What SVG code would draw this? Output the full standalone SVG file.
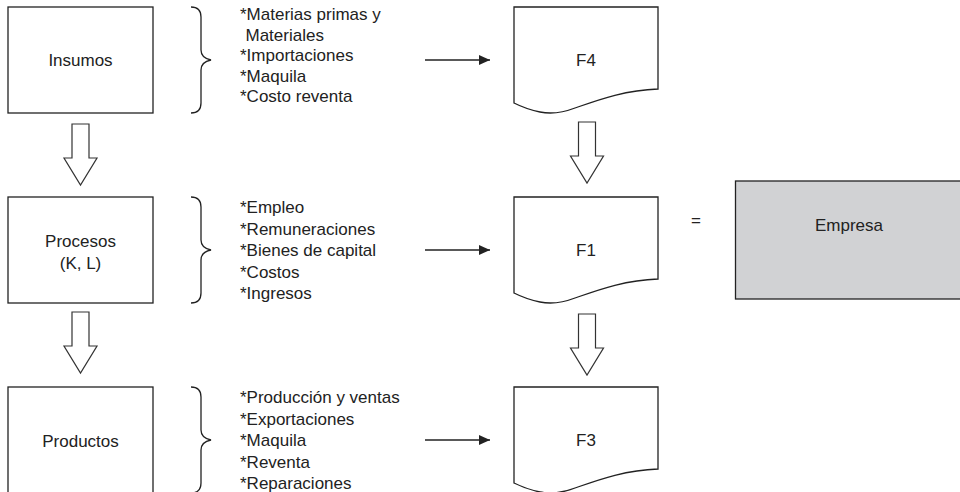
<svg xmlns="http://www.w3.org/2000/svg" xmlns:xlink="http://www.w3.org/1999/xlink" width="960" height="492" viewBox="0 0 960 492">
<style>
.box{fill:#fff;stroke:#222;stroke-width:1.3}
.gray{fill:#d1d2d4;stroke:#222;stroke-width:1.3}
.ln{fill:none;stroke:#222;stroke-width:1.3}
.blk{fill:#fff;stroke:#333;stroke-width:1.2}
text{font-family:"Liberation Sans",Arial,sans-serif;font-size:17px;fill:#222}
.c{text-anchor:middle}
</style>
<defs>
<path id="doc" d="M0,0 H144 V82 C111,83 84,93 61,101 C48,106 36,107 26,105 C16,103 6,99 0,96 Z"/>
<path id="blk" d="M-8.5,0 H8.5 V34 H16.5 L0,61 L-16.5,34 H-8.5 Z"/>
<path id="brace" d="M0,0 Q10,0 10,10 V43 Q10,51 20,53 Q10,55 10,63 V96 Q10,106 0,106"/>
<marker id="ah" viewBox="0 0 11 10" refX="11" refY="5" markerWidth="11" markerHeight="10" markerUnits="userSpaceOnUse" orient="auto">
<path d="M0,0 L11,5 L0,10 Z" fill="#222"/>
</marker>
</defs>

<g id="insumos">
<rect class="box" x="8" y="7" width="145" height="106"/>
<text class="c" x="80.5" y="66">Insumos</text>
</g>
<g id="procesos">
<rect class="box" x="8" y="197" width="145" height="106"/>
<text class="c" x="80.5" y="247">Procesos</text>
<text class="c" x="80.5" y="269">(K, L)</text>
</g>
<g id="productos">
<rect class="box" x="8" y="387" width="145" height="110"/>
<text class="c" x="80.5" y="447">Productos</text>
</g>

<g id="list-insumos">
<use xlink:href="#brace" class="ln" x="191" y="7"/>
<text x="240" y="20">*Materias primas y</text>
<text x="245.5" y="40.5">Materiales</text>
<text x="240" y="61">*Importaciones</text>
<text x="240" y="81.5">*Maquila</text>
<text x="240" y="102">*Costo reventa</text>
</g>
<g id="list-procesos">
<use xlink:href="#brace" class="ln" x="191" y="197"/>
<text x="240" y="213">*Empleo</text>
<text x="240" y="234.5">*Remuneraciones</text>
<text x="240" y="256">*Bienes de capital</text>
<text x="240" y="277.5">*Costos</text>
<text x="240" y="299">*Ingresos</text>
</g>
<g id="list-productos">
<use xlink:href="#brace" class="ln" x="191" y="387"/>
<text x="240" y="403">*Producción y ventas</text>
<text x="240" y="424.5">*Exportaciones</text>
<text x="240" y="446">*Maquila</text>
<text x="240" y="467.5">*Reventa</text>
<text x="240" y="489">*Reparaciones</text>
</g>

<g id="f4">
<use xlink:href="#doc" class="box" x="514" y="7"/>
<text class="c" x="586" y="66">F4</text>
</g>
<g id="f1">
<use xlink:href="#doc" class="box" x="514" y="197"/>
<text class="c" x="586" y="256">F1</text>
</g>
<g id="f3">
<use xlink:href="#doc" class="box" x="514" y="387"/>
<text class="c" x="586" y="446">F3</text>
</g>

<g id="empresa">
<rect class="gray" x="735.5" y="181" width="228" height="118"/>
<text class="c" x="849" y="231">Empresa</text>
</g>
<g id="equals">
<text class="c" x="696" y="226">=</text>
</g>

<g id="connectors">
<line class="ln" x1="425" y1="60" x2="490" y2="60" marker-end="url(#ah)"/>
<line class="ln" x1="425" y1="250" x2="490" y2="250" marker-end="url(#ah)"/>
<line class="ln" x1="425" y1="440" x2="490" y2="440" marker-end="url(#ah)"/>
<use xlink:href="#blk" class="blk" transform="translate(80.5,124)"/>
<use xlink:href="#blk" class="blk" transform="translate(80.5,312)"/>
<use xlink:href="#blk" class="blk" transform="translate(587,122)"/>
<use xlink:href="#blk" class="blk" transform="translate(587,314)"/>
</g>
</svg>
